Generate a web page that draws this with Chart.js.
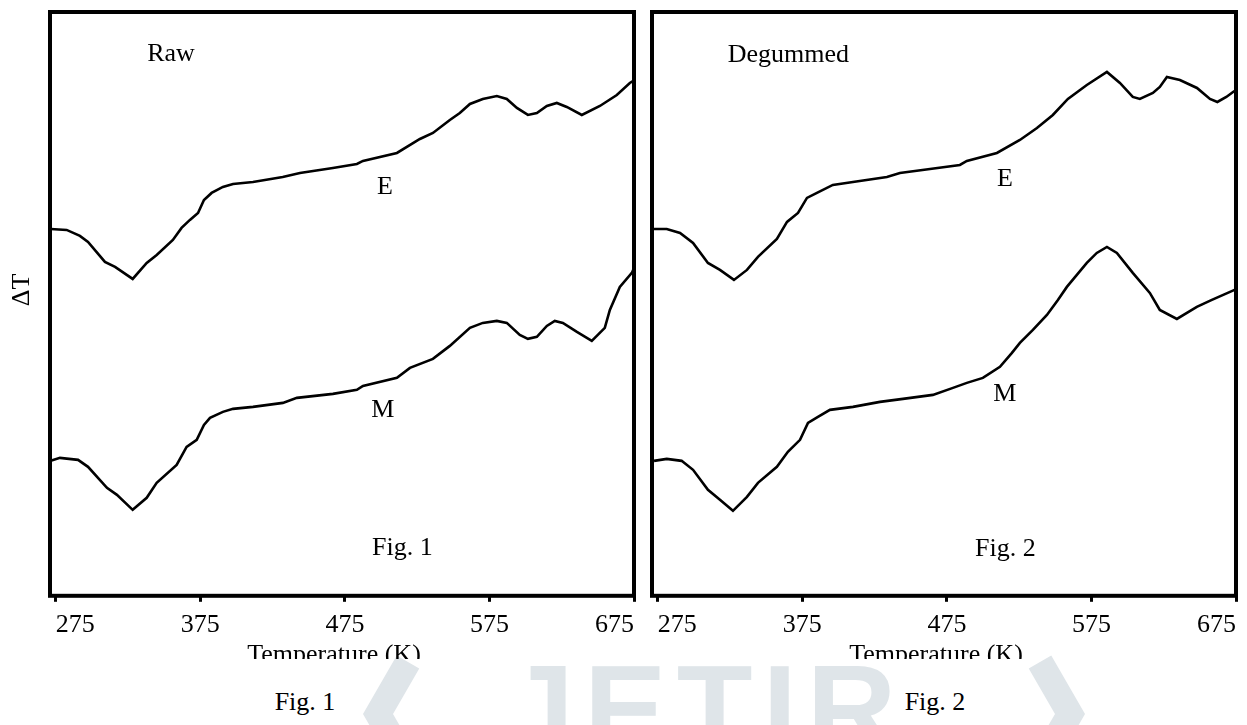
<!DOCTYPE html>
<html>
<head>
<meta charset="utf-8">
<title>DTA curves - Raw and Degummed</title>
<script src="https://cdn.jsdelivr.net/npm/chart.js@4.4.1/dist/chart.umd.min.js"></script>
<style>
  body { margin: 0; background: #fff; }
  #page { position: relative; width: 1247px; height: 725px; overflow: hidden;
          font-family: 'Liberation Serif', 'Times New Roman', serif; }
  #watermark { position: absolute; left: 0; top: 0; }
  .panel { position: absolute; top: 0; width: 680px; height: 659px; }
  .caption { position: absolute; top: 689px; width: 120px; font-size: 26px; line-height: 1;
             text-align: center; color: #000; }
</style>
</head>
<body>
<div id="page">
  <svg id="watermark" width="1247" height="725">
    <g fill="none" stroke="#dfe5e9" stroke-width="26">
      <polyline points="408,662 378,714 408,766"/>
      <polyline points="1040,662 1070,714 1040,766"/>
    </g>
    <text x="505" y="752" fill="#dfe5e9" font-family="Liberation Sans, Arial, sans-serif"
          font-weight="bold" font-size="124" letter-spacing="10">JETIR</text>
  </svg>
  <div class="panel" style="left:0"><canvas id="rawChart"></canvas></div>
  <div class="panel" style="left:600px"><canvas id="degChart"></canvas></div>
  <div class="caption" style="left:245px">Fig. 1</div>
  <div class="caption" style="left:875px">Fig. 2</div>
</div>

<script>
// ---- axis setup ----
const xTicks = [275, 375, 475, 575, 675];
const xMin = 271;
const xMax = 675;
const yMin = 0;
const yMax = 584;

// ---- Raw (Fig. 1) ----
const rawETemp = [271.5, 282.5, 291.7, 297.3, 309, 316, 328.2, 337.9, 344.8, 356, 362, 367.8, 373.4, 377.5,
  382.8, 390.6, 397.6, 411.4, 432, 443.9, 466.7, 483.3, 487.5, 511, 526.9, 535.9, 547.6, 554.5, 561.5,
  570.4, 580.1, 587, 594, 601.6, 607.8, 614.7, 621.6, 628.5, 638.9, 651.4, 663.1, 672.1, 674.5];
const rawEDelta = [367, 366, 360, 354, 334, 329, 317, 333, 341, 356, 368, 376, 383, 396,
  403, 409, 412, 414, 419, 423, 428, 432, 435, 443, 457, 463, 476, 483, 492,
  497, 500, 497, 488, 481, 483, 490, 493, 489, 481, 490, 501, 513, 515];

const rawMTemp = [271.5, 277.9, 290.4, 297.3, 310.4, 317.3, 328.2, 337.9, 344.8, 358.6, 365.5, 372.5, 377.5,
  381.7, 390.6, 397.6, 411.4, 432.1, 441.8, 466.7, 483.3, 487.5, 511, 520, 535.9, 547.6, 561.5, 570.4,
  580.1, 587, 596, 601.6, 607.8, 614.7, 620.2, 625.8, 635.5, 645.8, 654.8, 658.3, 665.2, 673.5, 675];
const rawMDelta = [135, 138, 136, 129, 108, 101, 86, 98, 113, 131, 149, 156, 171,
  178, 184, 187, 189, 193, 198, 202, 206, 210, 218, 228, 237, 250, 268, 273,
  275, 273, 261, 257, 259, 270, 275, 273, 264, 255, 268, 286, 309, 323, 328];

// ---- Degummed (Fig. 2) ----
const degETemp = [272.4, 281.2, 290.4, 299.4, 309.7, 318, 327.7, 336.7, 344.3, 357.4, 364.4, 372, 378.2,
  385.1, 396.1, 410, 433.5, 442.5, 463.3, 484, 488.8, 509.6, 525.5, 537.3, 548.3, 558.7, 571.8, 585.7,
  594.7, 603.6, 608.5, 617.5, 622.3, 627.2, 636.2, 648, 657, 662.1, 668.3, 673.9];
const degEDelta = [367, 367, 363, 353, 333, 326, 316, 326, 339, 357, 374, 383, 398,
  403, 411, 414, 419, 423, 427, 431, 435, 443, 456, 468, 481, 497, 511, 524,
  513, 499, 497, 503, 509, 519, 516, 508, 497, 494, 499, 505];

const degMTemp = [272.4, 281.2, 291.5, 299.4, 309.7, 318, 327, 336.7, 344.3, 357.4, 365, 373.4, 378.9,
  385.8, 394.1, 410, 428.7, 444.6, 465.3, 479.2, 488.8, 499.9, 511.7, 520, 525.5, 534.5, 544.2, 551.8,
  558, 571.8, 578.7, 585.7, 592.6, 603.6, 615.4, 622.3, 634.1, 647.9, 658.3, 674];
const degMDelta = [135, 137, 135, 126, 106, 96, 85, 99, 113, 129, 144, 156, 173,
  179, 186, 189, 194, 197, 201, 208, 213, 218, 229, 243, 253, 266, 281, 296,
  309, 333, 343, 349, 343, 323, 303, 286, 277, 289, 296, 306];

// ---- text inside the panels (data coordinates) ----
const rawNotes = [
  { text: 'Raw', x: 354.7, y: 542 },
  { text: 'E', x: 502.7, y: 409 },
  { text: 'M', x: 501.3, y: 186 },
  { text: 'Fig. 1', x: 514.8, y: 48 }
];
const degNotes = [
  { text: 'Degummed', x: 365.4, y: 541 },
  { text: 'E', x: 515.1, y: 417 },
  { text: 'M', x: 515.1, y: 202 },
  { text: 'Fig. 2', x: 515.4, y: 47 }
];

const serif = "'Liberation Serif', 'Times New Roman', serif";

function toPoints(temps, deltas) {
    return temps.map((t, i) => ({ x: t, y: deltas[i] }));
}

// frame, in-panel notes and axis titles
function decorPlugin(notes, showYTitle) {
    return {
        id: 'panelDecor',
        afterDraw(chart) {
            const { ctx, chartArea: a, scales } = chart;
            ctx.save();
            ctx.strokeStyle = '#000';
            ctx.lineWidth = 4;
            ctx.strokeRect(a.left, a.top, a.right - a.left, a.bottom - a.top);

            ctx.fillStyle = '#000';
            ctx.font = '26px ' + serif;
            ctx.textAlign = 'center';
            ctx.textBaseline = 'middle';
            notes.forEach(n => {
                ctx.fillText(n.text, scales.x.getPixelForValue(n.x), scales.y.getPixelForValue(n.y));
            });

            // the title is cut by the bottom of the canvas, as in the source figure
            ctx.textBaseline = 'alphabetic';
            ctx.fillText('Temperature (K)', (a.left + a.right) / 2 - 8, a.bottom + 66);

            if (showYTitle) {
                ctx.translate(a.left - 28, (a.top + a.bottom) / 2 - 14);
                ctx.rotate(-Math.PI / 2);
                ctx.textBaseline = 'middle';
                ctx.fillText('\u0394T', 0, 0);
            }
            ctx.restore();
        }
    };
}

function makePanel(canvasId, series, notes, padLeft, padRight, showYTitle) {
    const ctx = document.getElementById(canvasId).getContext('2d');
    return new Chart(ctx, {
        type: 'line',
        data: {
            datasets: series.map(s => ({
                label: s.label,
                data: toPoints(s.temps, s.deltas),
                borderColor: '#000',
                borderWidth: 2.6,
                pointRadius: 0,
                tension: 0,
                fill: false
            }))
        },
        options: {
            responsive: true,
            maintainAspectRatio: false,
            animation: false,
            events: [],
            layout: { padding: { left: padLeft, right: padRight, top: 12, bottom: 10 } },
            plugins: {
                legend: { display: false },
                tooltip: { enabled: false }
            },
            scales: {
                x: {
                    type: 'linear',
                    min: xMin,
                    max: xMax,
                    afterBuildTicks: scale => {
                        scale.ticks = xTicks.map(v => ({ value: v }));
                    },
                    ticks: {
                        color: '#000',
                        font: { family: serif, size: 26 },
                        padding: 8,
                        align: 'inner',
                        maxRotation: 0,
                        autoSkip: false,
                        callback: v => String(v)
                    },
                    grid: {
                        drawOnChartArea: false,
                        drawTicks: true,
                        tickLength: 6,
                        tickWidth: 3,
                        lineWidth: 3,
                        color: '#000'
                    },
                    border: { display: false }
                },
                y: { display: false, min: yMin, max: yMax }
            }
        },
        plugins: [decorPlugin(notes, showYTitle)]
    });
}

makePanel('rawChart', [
    { label: 'E', temps: rawETemp, deltas: rawEDelta },
    { label: 'M', temps: rawMTemp, deltas: rawMDelta }
], rawNotes, 50, 46, true);

makePanel('degChart', [
    { label: 'E', temps: degETemp, deltas: degEDelta },
    { label: 'M', temps: degMTemp, deltas: degMDelta }
], degNotes, 52, 44, false);
</script>
</body>
</html>
